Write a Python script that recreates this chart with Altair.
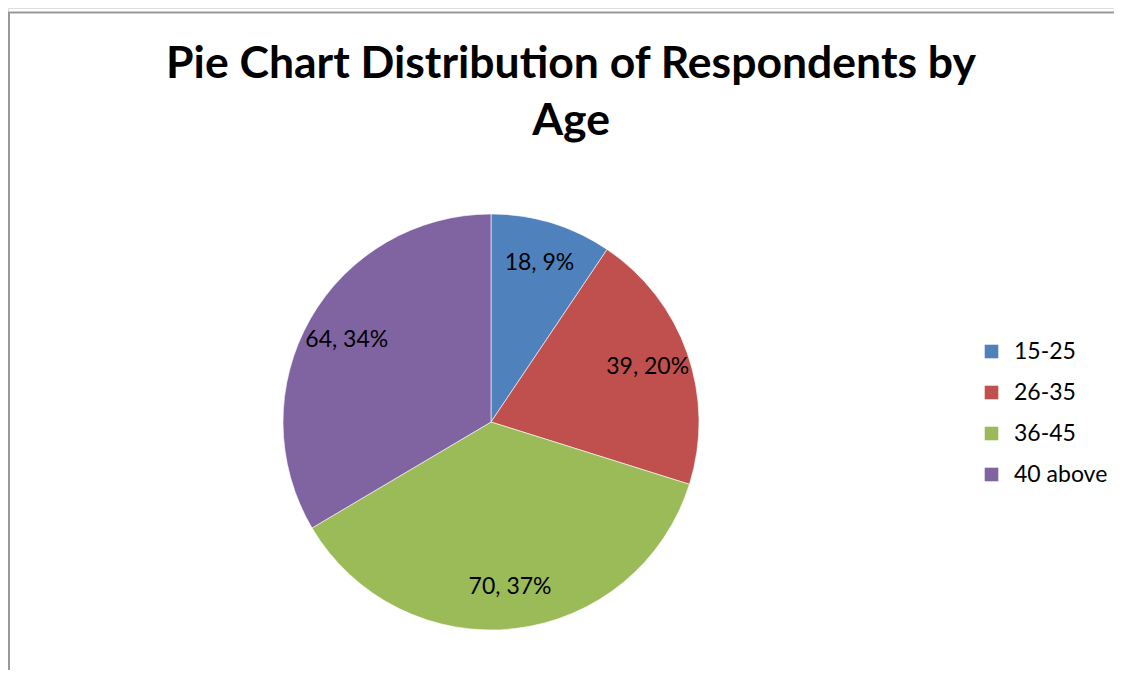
import altair as alt
import pandas as pd

categories = ["15-25", "26-35", "36-45", "40 above"]
counts = [18, 39, 70, 64]
colors = ["#4F81BD", "#C0504D", "#9BBB59", "#8064A2"]
title_lines = ["Pie Chart Distribution of Respondents by", "Age"]

total = sum(counts)
df = pd.DataFrame({
    "category": categories,
    "count": counts,
    "idx": list(range(len(categories))),
})
df["label"] = [f"{c}, {round(100 * c / total)}%" for c in counts]

W, H = 1106, 662
CX, CY = 483, 414

base = alt.Chart(df)

color = alt.Color(
    "category:N",
    scale=alt.Scale(domain=categories, range=colors),
    legend=alt.Legend(
        title=None,
        orient="none",
        legendX=972,
        legendY=332,
        symbolType="square",
        symbolSize=185,
        symbolStrokeWidth=0,
        labelFontSize=23,
        labelFont="Lato",
        labelColor="#000000",
        rowPadding=17,
        labelOffset=11,
    ),
)

pie = base.mark_arc(radius=208, stroke="#ffffff", strokeWidth=0.6).encode(
    theta=alt.Theta("count:Q", stack=True),
    color=color,
    order=alt.Order("idx:Q"),
    x=alt.value(CX),
    y=alt.value(CY),
)

labels = base.mark_text(radius=166, font="Lato", fontSize=23, color="#000000").encode(
    theta=alt.Theta("count:Q", stack=True),
    order=alt.Order("idx:Q"),
    text="label:N",
    x=alt.value(CX),
    y=alt.value(CY),
)

title = alt.Chart(pd.DataFrame({"t": ["\n".join(title_lines)]})).mark_text(
    font="Lato", fontSize=44.5, fontWeight="bold", color="#000000",
    lineBreak="\n", lineHeight=57, baseline="top", align="center",
).encode(x=alt.value(563), y=alt.value(35), text="t:N")

border_top = alt.Chart(pd.DataFrame({"a": [0]})).mark_rule(color="#999999", strokeWidth=2).encode(
    x=alt.value(0), x2=alt.value(W), y=alt.value(4.5)
)
border_left = alt.Chart(pd.DataFrame({"a": [0]})).mark_rule(color="#999999", strokeWidth=2).encode(
    x=alt.value(1), y=alt.value(4), y2=alt.value(H)
)

chart = alt.layer(pie, labels, title, border_top, border_left).properties(
    width=W, height=H, padding=0, autosize=alt.AutoSizeParams(type="none"),
).configure_view(stroke="transparent", strokeWidth=0).configure(background="#ffffff")

chart.save("out.html", embed_options={"renderer": "svg", "actions": False})
